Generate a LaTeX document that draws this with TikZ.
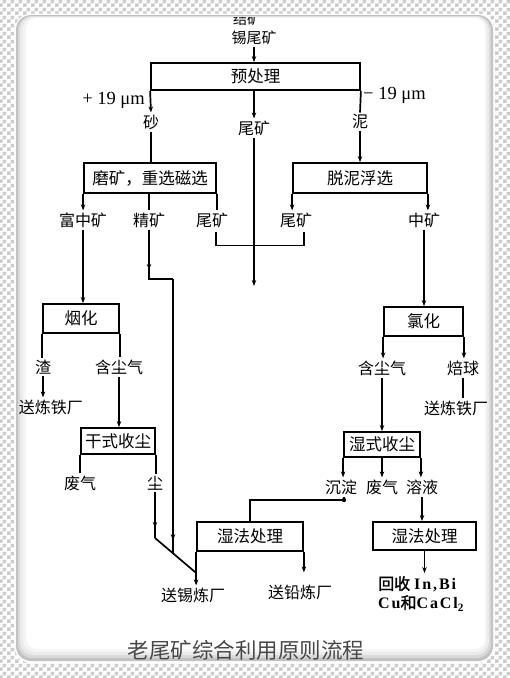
\documentclass[tikz,border=0pt]{standalone}
\usepackage{fontspec}
\setmainfont{Liberation Serif}
\newfontfamily\cjk{Noto Sans CJK SC}
\newfontfamily\cjkb{Noto Sans CJK SC}[FakeBold=1.5]
\newfontfamily\latb{Liberation Serif Bold}[LetterSpace=12]
\usetikzlibrary{arrows.meta,calc,patterns.meta,decorations.markings}

\tikzdeclarepattern{
  name=checks,
  type=uncolored,
  bottom left={(0pt,0pt)},
  top right={(8pt,8pt)},
  tile size={(8pt,8pt)},
  code={
    \fill (0pt,0pt) rectangle (4pt,4pt);
    \fill (4pt,4pt) rectangle (8pt,8pt);
  }
}

\begin{document}
\begin{tikzpicture}[x=1pt,y=-1pt,
  lab/.style={font=\cjk\fontsize{16}{17}\selectfont, inner sep=2pt},
  stage/.style={draw, line width=1.8pt, inner sep=0pt, font=\cjk\fontsize{16.5}{18}\selectfont},
  ln/.style={line width=1.7pt},
  arr/.style={ln, -{Stealth[length=6pt,width=4.5pt]}},
  mid/.style={postaction={decorate}, decoration={markings, mark=at position #1 with {\arrow{Stealth[length=6pt,width=4.5pt]}}}}
]
% background and card
\fill[white] (0,0) rectangle (510,678);
\fill[pattern=checks, pattern color=black!20] (0,0) rectangle (510,678);
\useasboundingbox (0,0) rectangle (510,678);
\fill[white, rounded corners=17] (14.5,13.5) rectangle (494.5,663);
\fill[black!24, rounded corners=15] (16,15) rectangle (493,661);
\fill[black!15, rounded corners=14] (18,16) rectangle (491,658);
\fill[black!8, rounded corners=13] (20,16.5) rectangle (489,655);
\fill[black!4, rounded corners=12] (23,17) rectangle (487,652);
\fill[white, rounded corners=11] (26,18) rectangle (485,649);

\begin{scope}
  \clip (16,17.5) rectangle (493,661);
  \node[lab, font=\cjk\fontsize{14}{16}\selectfont] (feed) at (247,19.5) {结矿};
\end{scope}

% nodes
\node[lab, font=\cjk\fontsize{15}{16}\selectfont] (src) at (254,38) {锡尾矿};
\node[stage, minimum width=209pt, minimum height=27pt] (pre) at (255.5,76.5) {预处理};
\node[lab, font=\fontsize{18.5}{20}\selectfont, anchor=east, inner sep=1pt] (plus) at (146,100) {+ 19 μm};
\node[lab, font=\fontsize{18.5}{20}\selectfont, anchor=west, inner sep=1pt] (minus) at (362,95) {− 19 μm};
\node[lab] (sand) at (151,122) {砂};
\node[lab] (tl) at (254,128) {尾矿};
\node[lab] (mud) at (360,122) {泥};
\node[stage, minimum width=132pt, minimum height=30pt] (grind) at (150,178) {磨矿，重选磁选};
\node[stage, minimum width=134pt, minimum height=30pt] (flot) at (360,178) {脱泥浮选};
\node[lab] (fz) at (83,220) {富中矿};
\node[lab] (jk) at (149,220) {精矿};
\node[lab] (wk1) at (212,220) {尾矿};
\node[lab] (wk2) at (296,220) {尾矿};
\node[lab] (zk) at (424,220) {中矿};
\coordinate (tailend) at (254,286);

\node[stage, minimum width=76pt, minimum height=29pt] (fume) at (81,318.5) {烟化};
\node[stage, minimum width=79pt, minimum height=29pt] (chlor) at (423.5,321.5) {氯化};
\node[lab] (slag) at (43,367) {渣};
\node[lab] (dg1) at (119,367) {含尘气};
\node[lab] (iron1) at (51,407) {送炼铁厂};
\node[lab] (dg2) at (382,368) {含尘气};
\node[lab] (ball) at (463,368) {焙球};
\node[lab] (iron2) at (456,408) {送炼铁厂};
\node[stage, minimum width=74pt, minimum height=26pt] (dry) at (118,441) {干式收尘};
\node[stage, minimum width=76pt, minimum height=25pt] (wet) at (382,444.5) {湿式收尘};
\node[lab] (waste1) at (80,483) {废气};
\node[lab] (dust) at (155,483) {尘};
\node[lab] (prec) at (341,487) {沉淀};
\node[lab] (waste2) at (382,487) {废气};
\node[lab] (sol) at (422,487) {溶液};
\node[stage, minimum width=106pt, minimum height=29pt] (hyd1) at (250,536.5) {湿法处理};
\node[stage, minimum width=103pt, minimum height=28pt] (hyd2) at (424.5,536) {湿法处理};
\node[lab] (tin) at (193,595) {送锡炼厂};
\node[lab] (lead) at (300,592) {送铅炼厂};
\node[anchor=north west, align=left, inner sep=0pt, font=\fontsize{16}{19}\selectfont] (rec) at (378,576)
  {{\cjkb 回收} {\latb In,Bi}\\{\latb Cu}{\cjkb 和}{\latb CaCl\textsubscript{2}}};
\node[font=\cjk\fontsize{21.5}{24}\selectfont, text=black!72] (cap) at (246,650) {老尾矿综合利用原则流程};

% junction coordinates
\coordinate (j1) at (155,538);
\coordinate (j2) at ($(hyd1.south west)+(0,21)$);
\coordinate (jb) at (173,279);
\coordinate (jc) at (173,552.6);
\coordinate (pc) at (344,500);

% connectors
\draw[arr] (src.south) -- (src.south |- pre.north);
\draw[arr] (pre.south west) -- (sand.north);
\draw[arr] (tl.north |- pre.south) -- (tl.north);
\draw[ln] (pre.south east) -- (mud.north);
\draw[ln] (sand.south) -- (sand.south |- grind.north);
\draw[arr] (tl.south) -- (tailend);
\draw[arr] (mud.south) -- (mud.south |- flot.north);
\draw[arr] (grind.south west) -- (grind.south west |- fz.north);
\draw[ln] (jk.north |- grind.south) -- (jk.north);
\draw[ln] (grind.south east) -- (grind.south east |- wk1.north);
\draw[arr] (flot.south west) -- (flot.south west |- wk2.north);
\draw[arr] (flot.south east) -- (flot.south east |- zk.north);
\draw[ln] ($(wk1.south)+(4,2)$) -- ++(0,14) -| ($(wk2.south)+(8,2)$);
\draw[arr] (zk.south) -- (zk.south |- chlor.north);

\draw[arr] (fz.south) -- (fz.south |- fume.north);
\draw[ln] (fume.south west) -- (fume.south west |- slag.north);
\draw[ln] (fume.south east) -- (fume.south east |- dg1.north);
\draw[arr] (slag.south) -- (slag.south |- iron1.north);
\draw[arr] (dg1.south) -- (dg1.south |- dry.north);
\draw[ln] (dry.south west) -- (dry.south west |- waste1.north);
\draw[ln] (dry.south east) -- (dry.south east |- dust.north);
\draw[ln, mid=0.78] (dust.south) -- (j1);
\draw[ln] (j1) -- (j2);
\draw[ln, mid=0.55] (jk.south) |- (jb);
\draw[ln, mid=0.955] (jb) -- (jc);
\draw[ln] (hyd1.south west) -- (j2);
\draw[arr] (j2) -- (j2 |- tin.north);
\draw[arr] (hyd1.south east) -- ([yshift=10pt]lead.north -| hyd1.south east);

\draw[arr] (chlor.south west) -- (chlor.south west |- dg2.north);
\draw[arr] (chlor.south east) -- (chlor.south east |- ball.north);
\draw[ln] (ball.south) -- (ball.south |- iron2.north);
\draw[arr] (dg2.south) -- (dg2.south |- wet.north);
\draw[arr] (wet.south west) -- (wet.south west |- prec.north);
\draw[arr] (wet.south) -- (wet.south |- waste2.north);
\draw[arr] (wet.south east) -- (wet.south east |- sol.north);
\draw[ln] (prec.south -| pc) -- (pc) -| (hyd1.north);
\fill (pc) circle (2.2pt);
\draw[arr] (sol.south) -- (sol.south |- hyd2.north);
\draw[arr] (hyd2.south) -- ([yshift=3pt]rec.north -| hyd2.south);
\end{tikzpicture}
\end{document}
